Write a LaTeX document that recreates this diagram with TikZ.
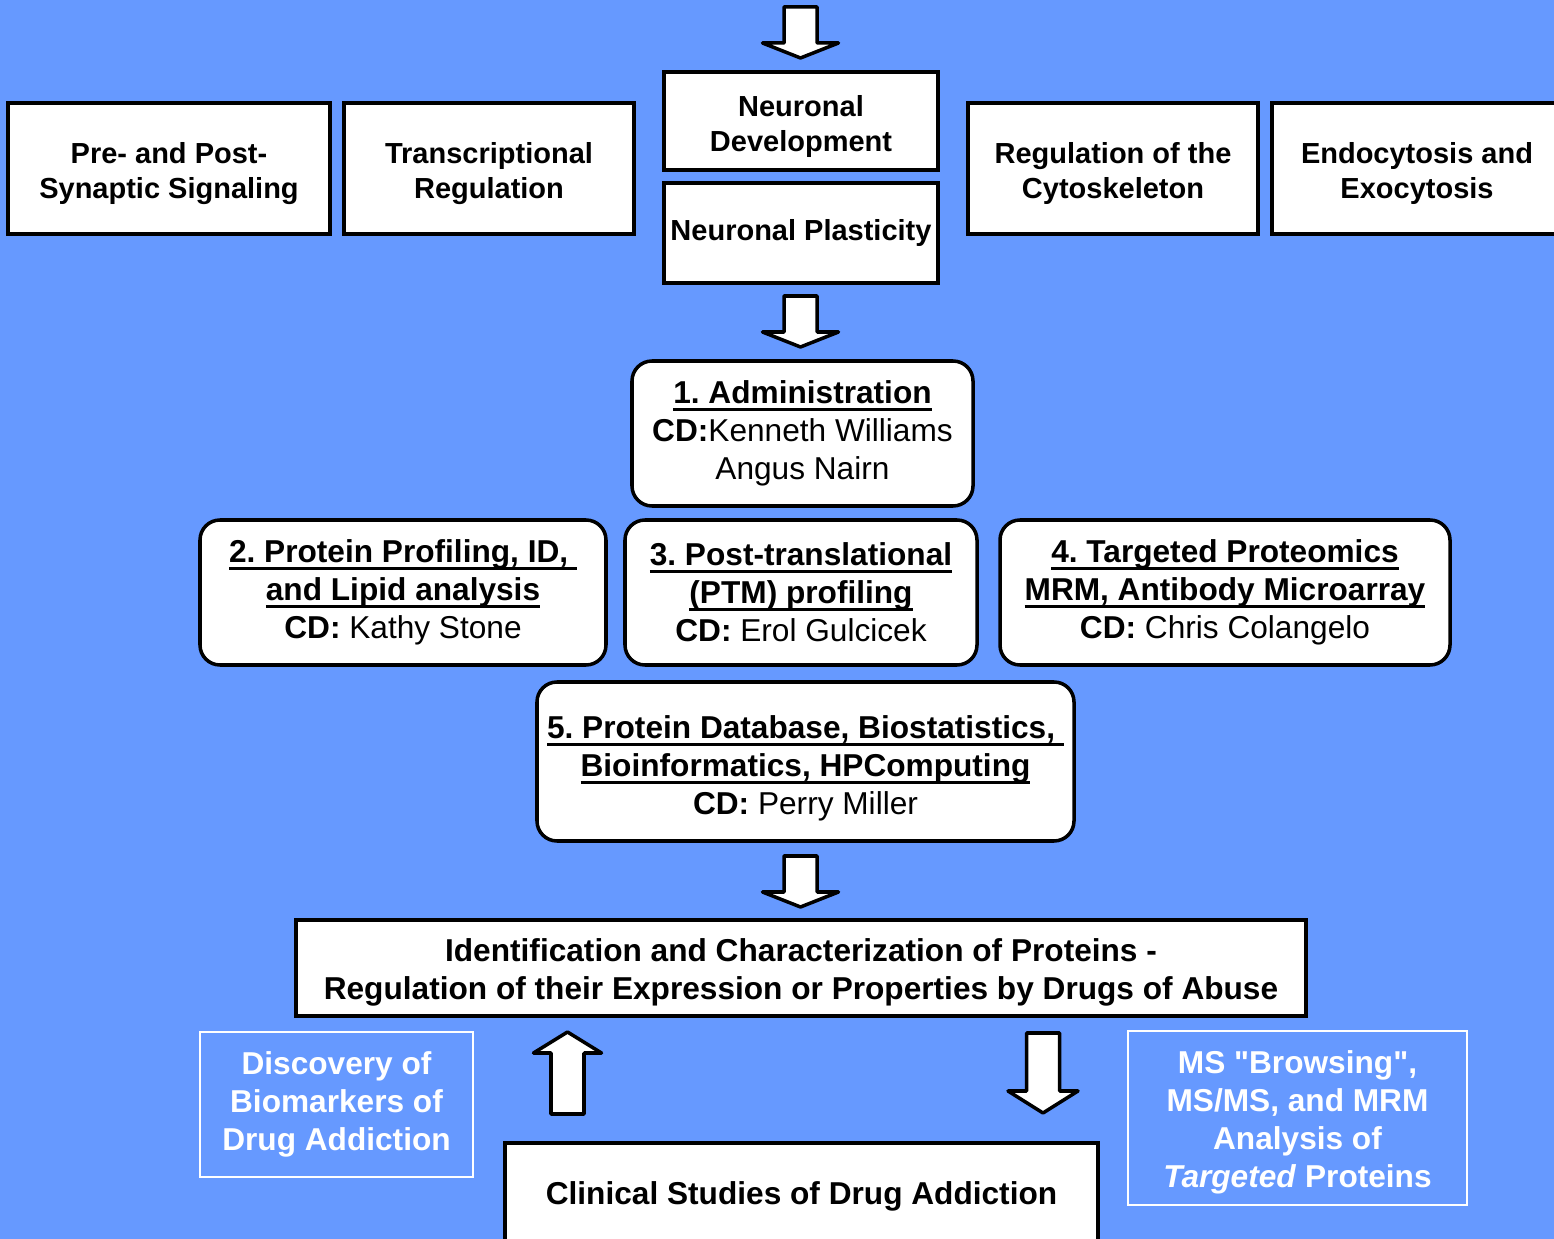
\documentclass[tikz,border=0pt]{standalone}
\usepackage{fontspec}
\setmainfont{Liberation Sans}[Ligatures=TeXOff]
\usepackage{xcolor}
\usepackage{tikz}
\usetikzlibrary{positioning}
\frenchspacing

\definecolor{bgblue}{RGB}{102,153,255}

% underline a whole title line, rule sits below the descenders
\newsavebox{\ttlbox}
\newcommand{\ttlline}[1]{\sbox{\ttlbox}{#1}\rlap{\rule[-4pt]{\wd\ttlbox}{1.5pt}}\usebox{\ttlbox}}
% invisible strut on the first line, pushes the text block down a bit
\newcommand{\lift}[1]{\rule{0pt}{#1}}

% vertical block arrow: x, start y, head base y, tip y, head half width
\newcommand{\blockarrow}[5]{%
  \filldraw[fatarrow] (#1-0.33,#2) -- (#1+0.33,#2) -- (#1+0.33,#3) -- (#1+#5,#3)
    -- (#1,#4) -- (#1-#5,#3) -- (#1-0.33,#3) -- cycle;}

\begin{document}
\begin{tikzpicture}[
    topbox/.style={rectangle, draw=black, fill=white, line width=2pt,
                   minimum height=2.62cm, inner sep=0pt, align=center,
                   font=\fontsize{16.5}{19.9}\selectfont\bfseries},
    corebox/.style={rectangle, rounded corners=0.4cm, draw=black, fill=white,
                    line width=2pt, minimum height=2.9cm, inner sep=0pt,
                    align=center, font=\fontsize{18}{21.6}\selectfont},
    mainbox/.style={rectangle, draw=black, fill=white, line width=2pt,
                    inner sep=0pt, align=center,
                    font=\fontsize{18}{21.6}\selectfont\bfseries},
    outcome/.style={rectangle, draw=white, line width=1.2pt, inner sep=0pt,
                    align=center, text=white,
                    font=\fontsize{18}{21.6}\selectfont\bfseries},
    fatarrow/.style={draw=black, fill=white, line width=2pt, line join=round}
]
\useasboundingbox (0,0) rectangle (31.08,-24.78);
\clip (0,0) rectangle (31.08,-24.78);
\fill[bgblue] (0,0) rectangle (31.08,-24.78);

% research areas
\node[topbox, minimum width=6.44cm] (presyn) at (3.38,-3.37) {\lift{17.5pt}Pre- and Post-\\Synaptic Signaling};
\node[topbox, minimum width=5.80cm] (transreg) at (9.78,-3.37) {\lift{17.5pt}Transcriptional\\Regulation};
\node[topbox, minimum width=5.48cm, minimum height=1.96cm] (develop) at (16.02,-2.42) {\lift{18.5pt}Neuronal\\Development};
\node[topbox, minimum width=5.48cm, minimum height=2.0cm] (plastic) at (16.02,-4.66) {Neuronal Plasticity};
\node[topbox, minimum width=5.80cm] (cytosk) at (22.26,-3.37) {\lift{17.5pt}Regulation of the\\Cytoskeleton};
\node[topbox, minimum width=5.80cm] (endoexo) at (28.34,-3.37) {\lift{17.5pt}Endocytosis and\\Exocytosis};

% cores
\node[corebox, minimum width=6.82cm] (admin) at (16.05,-8.67)
  {\textbf{\ttlline{1. Administration}}\\\textbf{CD:}Kenneth Williams\\Angus Nairn};
\node[corebox, minimum width=8.12cm] (profil) at (8.06,-11.85)
  {\textbf{\ttlline{2. Protein Profiling, ID,\ }}\\\textbf{\ttlline{and Lipid analysis}}\\\textbf{CD:} Kathy Stone};
\node[corebox, minimum width=7.04cm] (ptm) at (16.02,-11.85)
  {\textbf{\ttlline{3. Post-translational}}\\\textbf{\ttlline{(PTM) profiling}}\\\textbf{CD:} Erol Gulcicek};
\node[corebox, minimum width=9.0cm] (target) at (24.5,-11.85)
  {\textbf{\ttlline{4. Targeted Proteomics}}\\\textbf{\ttlline{MRM, Antibody Microarray}}\\\textbf{CD:} Chris Colangelo};
\node[corebox, minimum width=10.74cm, minimum height=3.18cm] (dbase) at (16.11,-15.23)
  {\lift{21pt}\textbf{\ttlline{5. Protein Database, Biostatistics,\ }}\\\textbf{\ttlline{Bioinformatics, HPComputing}}\\\textbf{CD:} Perry Miller};

% goal and clinical side
\node[mainbox, minimum width=20.2cm, minimum height=1.92cm] (ident) at (16.02,-19.36)
  {\lift{18.5pt}Identification and Characterization of Proteins -\\Regulation of their Expression or Properties by Drugs of Abuse};
\node[mainbox, minimum width=11.86cm, minimum height=2.0cm] (clinic) at (16.03,-23.86)
  {\lift{16.5pt}Clinical Studies of Drug Addiction};
\node[outcome, minimum width=5.46cm, minimum height=2.9cm] (discov) at (6.73,-22.09)
  {Discovery of\\Biomarkers of\\Drug Addiction};
\node[outcome, minimum width=6.78cm, minimum height=3.48cm] (msbrowse) at (25.95,-22.36)
  {\lift{17.5pt}MS "Browsing",\\MS/MS, and MRM\\Analysis of\\\textit{Targeted} Proteins};

% block arrows
\blockarrow{16.01}{-0.14}{-0.86}{-1.16}{0.76}
\blockarrow{16.01}{-5.92}{-6.64}{-6.94}{0.76}
\blockarrow{16.01}{-17.12}{-17.84}{-18.14}{0.76}
\blockarrow{11.35}{-22.28}{-21.06}{-20.64}{0.68}
\blockarrow{20.86}{-20.66}{-21.82}{-22.26}{0.7}
\end{tikzpicture}
\end{document}
